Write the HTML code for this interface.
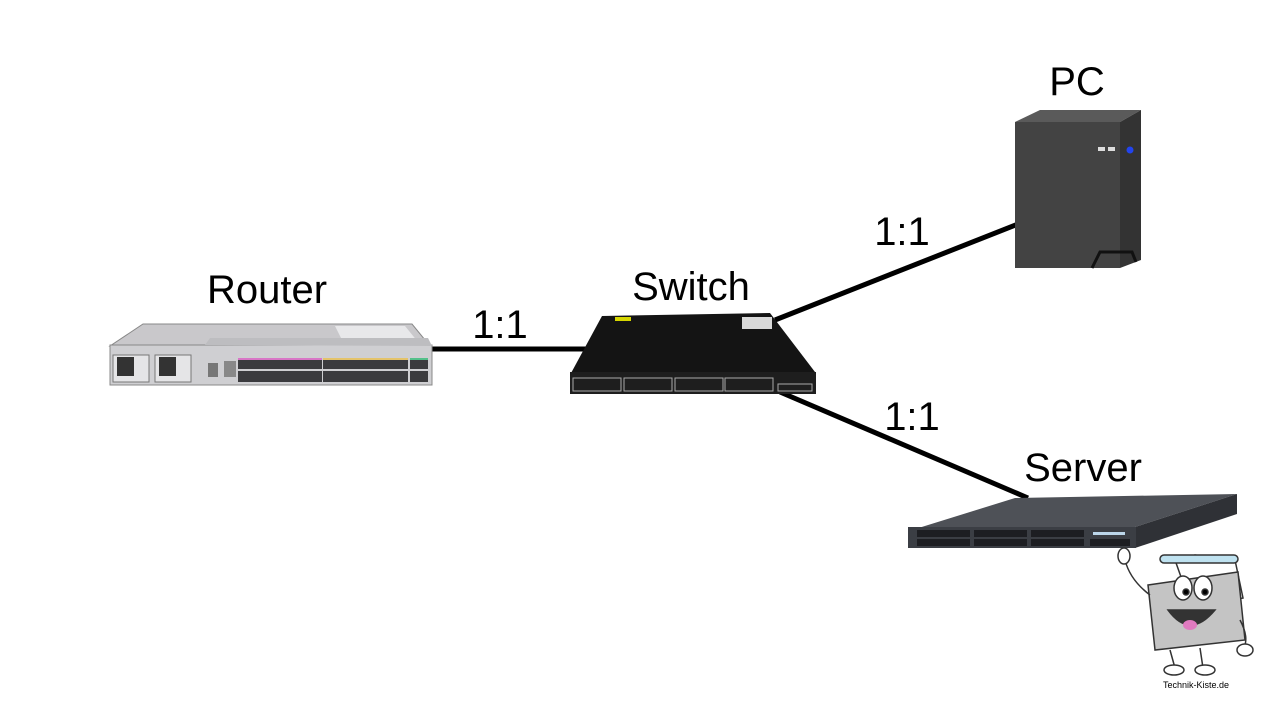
<!DOCTYPE html>
<html><head><meta charset="utf-8"><style>
html,body{margin:0;padding:0;background:#fff;}
svg{display:block}
text{font-family:"Liberation Sans",Arial,sans-serif;fill:#000}
</style></head><body>
<svg width="1280" height="720" viewBox="0 0 1280 720" xmlns="http://www.w3.org/2000/svg">
<rect width="1280" height="720" fill="#fff"/>
<!-- connectors -->
<g stroke="#000" stroke-width="5" stroke-linecap="butt">
<line x1="425" y1="349" x2="590" y2="349"/>
<line x1="775" y1="320" x2="1018" y2="224"/>
<line x1="780" y1="392" x2="1028" y2="498"/>
</g>
<!-- labels -->
<g font-size="40">
<text x="267" y="303" text-anchor="middle">Router</text>
<text x="691" y="300" text-anchor="middle">Switch</text>
<text x="1077" y="95" text-anchor="middle">PC</text>
<text x="1083" y="481" text-anchor="middle">Server</text>
<text x="500" y="338" text-anchor="middle">1:1</text>
<text x="902" y="245" text-anchor="middle">1:1</text>
<text x="912" y="430" text-anchor="middle">1:1</text>
</g>
<!-- Router -->
<g>
<polygon points="143,324 412,324 430,346 110,346" fill="#c9c8cb" stroke="#888" stroke-width="1"/>
<polygon points="335,326 405,326 418,342 343,342" fill="#e8e8ea"/>
<rect x="110" y="345" width="322" height="40" fill="#cfcfd2" stroke="#888"/>
<polygon points="205,345 210,338 428,338 432,346" fill="#bdbdc0"/>
<rect x="113" y="355" width="36" height="27" fill="#e5e5e7" stroke="#777"/>
<rect x="117" y="357" width="17" height="19" fill="#333"/>
<rect x="155" y="355" width="36" height="27" fill="#e5e5e7" stroke="#777"/>
<rect x="159" y="357" width="17" height="19" fill="#333"/>
<rect x="208" y="363" width="10" height="14" fill="#777"/>
<rect x="224" y="361" width="12" height="16" fill="#888"/>
<rect x="238" y="358" width="84" height="24" fill="#3b3b3e"/>
<rect x="238" y="358" width="84" height="2" fill="#d876c6"/>
<rect x="323" y="358" width="85" height="24" fill="#3b3b3e"/>
<rect x="323" y="358" width="85" height="2" fill="#e4c36a"/>
<rect x="410" y="358" width="18" height="24" fill="#3b3b3e"/>
<rect x="410" y="358" width="18" height="2" fill="#54c08a"/>
<rect x="238" y="369" width="190" height="2" fill="#cfcfd2"/>
</g>
<!-- Switch -->
<g>
<polygon points="602,316 770,313 815,372 570,375" fill="#141414"/>
<rect x="615" y="317" width="16" height="4" fill="#d6d600"/>
<rect x="742" y="317" width="30" height="12" fill="#d8d8d8"/>
<rect x="570" y="372" width="246" height="22" fill="#1e1e1e"/>
<g fill="none" stroke="#aaa" stroke-width="1">
<rect x="573" y="378" width="48" height="13"/>
<rect x="624" y="378" width="48" height="13"/>
<rect x="675" y="378" width="48" height="13"/>
<rect x="725" y="378" width="48" height="13"/>
<rect x="778" y="384" width="34" height="7"/>
</g>
</g>
<!-- PC -->
<g>
<polygon points="1015,122 1040,110 1141,110 1120,122" fill="#5a5a5a"/>
<polygon points="1120,122 1141,110 1141,260 1120,268" fill="#333"/>
<rect x="1015" y="122" width="105" height="146" fill="#434343"/>
<rect x="1098" y="147" width="7" height="4" fill="#ddd"/>
<rect x="1108" y="147" width="7" height="4" fill="#ddd"/>
<circle cx="1130" cy="150" r="3.5" fill="#2244ee"/>
<polyline points="1092,268 1100,252 1132,252 1136,262" fill="none" stroke="#111" stroke-width="3"/>
</g>
<!-- Server -->
<g>
<polygon points="912,530 1015,498 1237,494 1135,527" fill="#4e5157"/>
<polygon points="1135,527 1237,494 1237,514 1135,548" fill="#2f3136"/>
<rect x="908" y="527" width="228" height="21" fill="#3b3e44"/>
<g fill="#1d1e22">
<rect x="917" y="530" width="53" height="7"/><rect x="974" y="530" width="53" height="7"/><rect x="1031" y="530" width="53" height="7"/>
<rect x="917" y="539" width="53" height="7"/><rect x="974" y="539" width="53" height="7"/><rect x="1031" y="539" width="53" height="7"/><rect x="1090" y="539" width="40" height="7"/>
</g>
<rect x="1093" y="532" width="32" height="3" fill="#bcd6ea"/>
</g>
<!-- Mascot -->
<g stroke="#333" stroke-width="1.5">
<path d="M1175,560 L1195,555 L1235,560 L1243,598 L1192,608 Z" fill="none"/>
<rect x="1160" y="555" width="78" height="8" rx="4" fill="#bfe2f0"/>
<polygon points="1148,585 1238,572 1245,640 1155,650" fill="#c4c4c4"/>
<ellipse cx="1183" cy="588" rx="9" ry="12" fill="#fff"/>
<ellipse cx="1203" cy="588" rx="9" ry="12" fill="#fff"/>
<circle cx="1186" cy="592" r="3" fill="#000"/><circle cx="1205" cy="592" r="3" fill="#000"/>
<path d="M1168,610 Q1190,640 1215,610 Z" fill="#333"/>
<ellipse cx="1190" cy="625" rx="7" ry="5" fill="#e07ac0" stroke="none"/>
<line x1="1170" y1="650" x2="1175" y2="668" fill="none"/>
<line x1="1200" y1="648" x2="1203" y2="668" fill="none"/>
<ellipse cx="1174" cy="670" rx="10" ry="5" fill="#fff"/>
<ellipse cx="1205" cy="670" rx="10" ry="5" fill="#fff"/>
<path d="M1150,595 Q1130,580 1125,560" fill="none"/>
<ellipse cx="1124" cy="556" rx="6" ry="8" fill="#fff"/>
<path d="M1240,620 Q1248,635 1245,645" fill="none"/>
<ellipse cx="1245" cy="650" rx="8" ry="6" fill="#fff"/>
</g>
<text x="1196" y="688" font-size="9" text-anchor="middle" fill="#333">Technik-Kiste.de</text>
</svg>
</body></html>
